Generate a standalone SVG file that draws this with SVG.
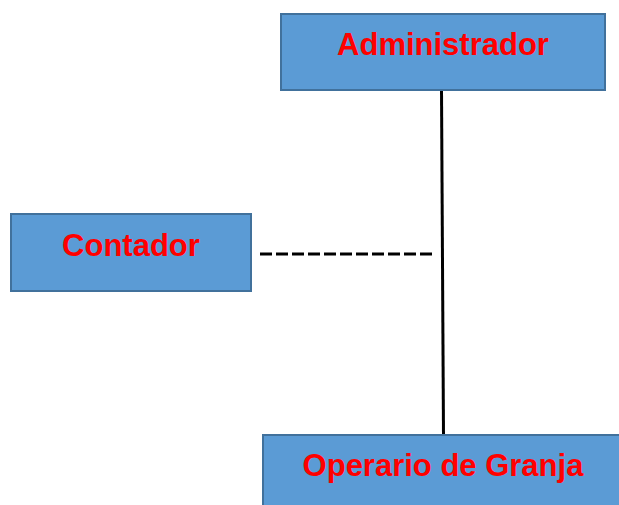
<svg xmlns="http://www.w3.org/2000/svg" width="619" height="505" viewBox="0 0 619 505">
<style>
.box{fill:#5B9BD5;stroke:#41719C;stroke-width:2}
.lbl{font-family:"Liberation Sans",Arial,sans-serif;font-weight:bold;font-size:31px;fill:#FF0000;text-anchor:middle}
.con{stroke:#000;stroke-width:3;fill:none}
</style>
<rect width="619" height="505" fill="#fff"/>
<g id="connectors">
<line class="con" x1="441.5" y1="89" x2="443.5" y2="436"/>
<line class="con" x1="260" y1="254" x2="432" y2="254" stroke-dasharray="12 4"/>
</g>
<g id="administrador">
<rect class="box" x="281" y="14" width="324" height="76"/>
<text class="lbl" x="443" y="55">Administrador</text>
</g>
<g id="contador">
<rect class="box" x="11" y="214" width="240" height="77"/>
<text class="lbl" x="131" y="256">Contador</text>
</g>
<g id="operario">
<rect class="box" x="263" y="435" width="360" height="80"/>
<text class="lbl" x="443" y="476">Operario de Granja</text>
</g>
</svg>
